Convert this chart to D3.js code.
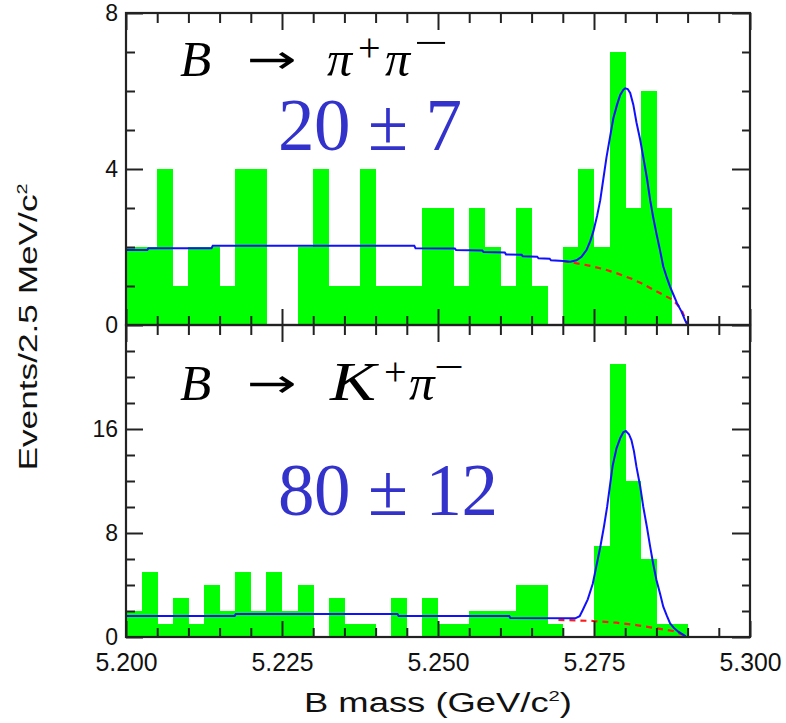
<!DOCTYPE html>
<html>
<head>
<meta charset="utf-8">
<script src="https://cdn.jsdelivr.net/npm/d3@7"></script>
<style>
  body { margin: 0; background: #fff; }
  svg { display: block; }
</style>
</head>
<body>
<div id="graph"></div>
<script>
// lower edges of the 2.5 MeV bins
const binLow = [
  5.2000, 5.2025, 5.2050, 5.2075, 5.2100, 5.2125, 5.2150, 5.2175, 5.2200, 5.2225,
  5.2250, 5.2275, 5.2300, 5.2325, 5.2350, 5.2375, 5.2400, 5.2425, 5.2450, 5.2475,
  5.2500, 5.2525, 5.2550, 5.2575, 5.2600, 5.2625, 5.2650, 5.2675, 5.2700, 5.2725,
  5.2750, 5.2775, 5.2800, 5.2825, 5.2850, 5.2875, 5.2900, 5.2925, 5.2950, 5.2975
];
const binWidth = 0.0025;

// B -> pi+ pi- events per bin
const pipiCounts = [
  2, 2, 4, 1, 2, 2, 1, 4, 4, 0,
  0, 2, 4, 1, 1, 4, 1, 1, 1, 3,
  3, 1, 3, 2, 1, 3, 1, 0, 2, 4,
  2, 7, 3, 6, 3, 0, 0, 0, 0, 0
];
// B -> K+ pi- events per bin
const kpiCounts = [
  2, 5, 1, 3, 1, 4, 2, 5, 2, 5,
  2, 4, 0, 3, 1, 1, 0, 3, 0, 3,
  1, 1, 2, 2, 2, 4, 4, 1, 0, 0,
  7, 21, 12, 6, 1, 1, 0, 0, 0, 0
];

// fit curves: [mass, events]
const pipiFit = [
  [5.2000, 1.92], [5.2034, 1.92], [5.2036, 1.97], [5.2137, 1.97], [5.2139, 2.03],
  [5.2462, 2.03], [5.2464, 1.97], [5.2527, 1.96], [5.2529, 1.92], [5.2571, 1.91],
  [5.2573, 1.87], [5.2607, 1.86], [5.2609, 1.81], [5.2634, 1.80], [5.2636, 1.76],
  [5.2659, 1.75], [5.2661, 1.71], [5.2679, 1.70], [5.2681, 1.66], [5.2701, 1.64],
  [5.2712, 1.62], [5.2722, 1.66], [5.2730, 1.75], [5.2738, 1.92], [5.2744, 2.15],
  [5.2749, 2.40], [5.2755, 2.80], [5.2760, 3.20], [5.2765, 3.75], [5.2770, 4.30],
  [5.2776, 4.85], [5.2781, 5.30], [5.2787, 5.65], [5.2792, 5.90], [5.2797, 6.03],
  [5.2800, 6.07], [5.2804, 6.05], [5.2808, 5.95], [5.2813, 5.65], [5.2818, 5.20],
  [5.2824, 4.75], [5.2829, 4.30], [5.2835, 3.75], [5.2840, 3.20], [5.2845, 2.75],
  [5.2850, 2.35], [5.2856, 1.90], [5.2861, 1.50], [5.2867, 1.20], [5.2872, 0.98],
  [5.2878, 0.75], [5.2883, 0.56], [5.2890, 0.35], [5.2896, 0.12], [5.2900, 0.00]
];
const pipiBkg = [
  [5.2700, 1.64], [5.2716, 1.60], [5.2740, 1.53], [5.2764, 1.44], [5.2786, 1.33],
  [5.2808, 1.20], [5.2825, 1.08], [5.2840, 0.95], [5.2860, 0.78], [5.2877, 0.64],
  [5.2890, 0.40], [5.2900, 0.00]
];
const kpiFit = [
  [5.2000, 1.62], [5.2174, 1.62], [5.2176, 1.77], [5.2435, 1.77], [5.2437, 1.62],
  [5.2614, 1.62], [5.2616, 1.46], [5.2720, 1.44], [5.2727, 1.60], [5.2732, 2.08],
  [5.2740, 2.90], [5.2748, 4.10], [5.2754, 5.50], [5.2760, 6.90], [5.2766, 8.50],
  [5.2771, 10.0], [5.2776, 11.8], [5.2780, 13.2], [5.2786, 14.5], [5.2792, 15.3],
  [5.2797, 15.75], [5.2801, 15.85], [5.2806, 15.6], [5.2810, 15.15], [5.2814, 14.3],
  [5.2818, 13.1], [5.2824, 11.6], [5.2829, 10.0], [5.2835, 8.40], [5.2840, 6.95],
  [5.2845, 5.60], [5.2850, 4.40], [5.2856, 3.30], [5.2861, 2.33], [5.2867, 1.60],
  [5.2872, 1.05], [5.2878, 0.70], [5.2885, 0.41], [5.2892, 0.20], [5.2897, 0.05]
];
const kpiBkg = [
  [5.2693, 1.31], [5.2720, 1.28], [5.2749, 1.23], [5.2786, 1.10], [5.2818, 0.92],
  [5.2850, 0.67], [5.2877, 0.46], [5.2893, 0.15], [5.2898, 0.00]
];

const xMajorTicks = [5.200, 5.225, 5.250, 5.275, 5.300];
const xTickLabels = ["5.200", "5.225", "5.250", "5.275", "5.300"];
const xMinorTicks = [5.205, 5.210, 5.215, 5.220, 5.230, 5.235, 5.240, 5.245,
  5.255, 5.260, 5.265, 5.270, 5.280, 5.285, 5.290, 5.295];
const pipiYMajor = [0, 4, 8];
const pipiYMinor = [1, 2, 3, 5, 6, 7];
const kpiYMajor = [0, 8, 16];
const kpiYMinor = [2, 4, 6, 10, 12, 14, 18, 20, 22];

const w = 786, h = 723;
const left = 126, right = 750;
const sans = '"Liberation Sans", Arial, Helvetica, sans-serif';
const serif = '"Liberation Serif", "Times New Roman", Times, serif';

const svg = d3.select("#graph").append("svg").attr("width", w).attr("height", h);

const xScale = d3.scaleLinear().domain([5.2, 5.3]).range([left, right]);

const panels = [
  { counts: pipiCounts, fit: pipiFit, bkg: pipiBkg, yMax: 8, top: 13, bottom: 325,
    major: pipiYMajor, minor: pipiYMinor,
    final: "π", labelY: 76, yieldText: "20 ± 7", yieldY: 150, yieldLen: 184 },
  { counts: kpiCounts, fit: kpiFit, bkg: kpiBkg, yMax: 24, top: 325, bottom: 637,
    major: kpiYMajor, minor: kpiYMinor,
    final: "K", labelY: 400, yieldText: "80 ± 12", yieldY: 515, yieldLen: 220 }
];

function mathText(g, x, y, size, str, opts) {
  opts = opts || {};
  const t = g.append("text")
    .attr("x", x).attr("y", y)
    .attr("font-family", opts.family || serif)
    .attr("font-size", size)
    .attr("font-style", opts.italic ? "italic" : "normal")
    .attr("fill", opts.fill || "#000")
    .text(str);
  if (opts.len) t.attr("textLength", opts.len).attr("lengthAdjust", "spacingAndGlyphs");
  return t;
}

panels.forEach(function (p) {
  const yScale = d3.scaleLinear().domain([0, p.yMax]).range([p.bottom, p.top]);
  const g = svg.append("g");

  // histogram
  g.selectAll("rect.bin")
    .data(p.counts.map((c, i) => ({ lo: binLow[i], n: c })).filter(d => d.n > 0))
    .enter()
    .append("rect")
    .attr("class", "bin")
    .attr("x", d => xScale(d.lo))
    .attr("y", d => yScale(d.n))
    .attr("width", d => xScale(d.lo + binWidth) - xScale(d.lo) + 0.4)
    .attr("height", d => yScale(0) - yScale(d.n))
    .attr("fill", "#00ff00")
    .attr("shape-rendering", "crispEdges");

  const line = d3.line().x(d => xScale(d[0])).y(d => yScale(d[1]));

  g.append("path")
    .attr("d", line(p.bkg))
    .attr("fill", "none")
    .attr("stroke", "#ff1a1a")
    .attr("stroke-width", 2.2)
    .attr("stroke-dasharray", "6,5");

  g.append("path")
    .attr("d", line(p.fit))
    .attr("fill", "none")
    .attr("stroke", "#1010ff")
    .attr("stroke-width", 2);

  // frame
  g.append("rect")
    .attr("x", left).attr("y", p.top)
    .attr("width", right - left).attr("height", p.bottom - p.top)
    .attr("fill", "none").attr("stroke", "#222").attr("stroke-width", 2.2);

  // ticks pointing inwards on all four sides
  function ticks(axis, vals, size, transform) {
    g.append("g")
      .attr("transform", transform)
      .call(axis.tickValues(vals).tickSize(size).tickFormat(""))
      .call(s => s.select(".domain").remove())
      .call(s => s.selectAll("line").attr("stroke", "#222").attr("stroke-width", 2));
  }
  ticks(d3.axisTop(xScale), xMajorTicks, 16, `translate(0,${p.bottom})`);
  ticks(d3.axisTop(xScale), xMinorTicks, 9, `translate(0,${p.bottom})`);
  ticks(d3.axisBottom(xScale), xMajorTicks, 17, `translate(0,${p.top})`);
  ticks(d3.axisBottom(xScale), xMinorTicks, 10, `translate(0,${p.top})`);
  ticks(d3.axisRight(yScale), p.major, 17, `translate(${left},0)`);
  ticks(d3.axisRight(yScale), p.minor, 9, `translate(${left},0)`);
  ticks(d3.axisLeft(yScale), p.major, 18, `translate(${right},0)`);
  ticks(d3.axisLeft(yScale), p.minor, 8, `translate(${right},0)`);

  // y tick labels
  g.append("g")
    .attr("transform", `translate(${left},0)`)
    .call(d3.axisLeft(yScale).tickValues(p.major).tickSize(0).tickPadding(8))
    .call(s => s.select(".domain").remove())
    .call(s => s.selectAll("text")
      .attr("font-family", sans).attr("font-size", 23).attr("fill", "#111"));

  // decay label
  const y0 = p.labelY;
  mathText(g, 180, y0, 51, "B", { italic: true });
  mathText(g, 247, y0 - 3, 40, "→", { family: '"DejaVu Sans", sans-serif', len: 50 });
  if (p.final === "π") {
    mathText(g, 327, y0, 50, "π", { italic: true });
    mathText(g, 358, y0 - 15, 40, "+");
    mathText(g, 385, y0, 50, "π", { italic: true });
    mathText(g, 414, y0 - 20, 40, "−", { len: 34 });
  } else {
    mathText(g, 330, y0, 54, "K", { italic: true, len: 46 });
    mathText(g, 384, y0 - 15, 40, "+");
    mathText(g, 409, y0, 51, "π", { italic: true });
    mathText(g, 434, y0 - 20, 40, "−", { len: 30 });
  }

  // signal yield
  g.append("text")
    .attr("x", 278).attr("y", p.yieldY)
    .attr("font-family", serif)
    .attr("font-size", 73)
    .attr("fill", "#3333cc")
    .attr("textLength", p.yieldLen)
    .attr("lengthAdjust", "spacing")
    .text(p.yieldText);
});

// x tick labels
svg.append("g")
  .attr("transform", "translate(0,637)")
  .call(d3.axisBottom(xScale).tickValues(xMajorTicks).tickSize(0).tickPadding(16)
    .tickFormat((d, i) => xTickLabels[i]))
  .call(s => s.select(".domain").remove())
  .call(s => s.selectAll("text")
    .attr("font-family", sans).attr("font-size", 26).attr("fill", "#111")
    .attr("textLength", 62).attr("lengthAdjust", "spacingAndGlyphs"));

// axis titles
const xt = svg.append("text")
  .attr("x", 438).attr("y", 712)
  .attr("text-anchor", "middle")
  .attr("font-family", sans).attr("font-size", 27).attr("fill", "#111")
  .attr("textLength", 268)
  .attr("lengthAdjust", "spacingAndGlyphs");
xt.append("tspan").text("B mass (GeV/c");
xt.append("tspan").attr("dy", -11).attr("font-size", 15).text("2");
xt.append("tspan").attr("dy", 11).text(")");

const yt = svg.append("text")
  .attr("transform", "translate(37,327) rotate(-90)")
  .attr("text-anchor", "middle")
  .attr("font-family", sans).attr("font-size", 25).attr("fill", "#111")
  .attr("textLength", 287)
  .attr("lengthAdjust", "spacingAndGlyphs");
yt.append("tspan").text("Events/2.5 MeV/c");
yt.append("tspan").attr("dy", -10).attr("font-size", 14).text("2");
</script>
</body>
</html>
